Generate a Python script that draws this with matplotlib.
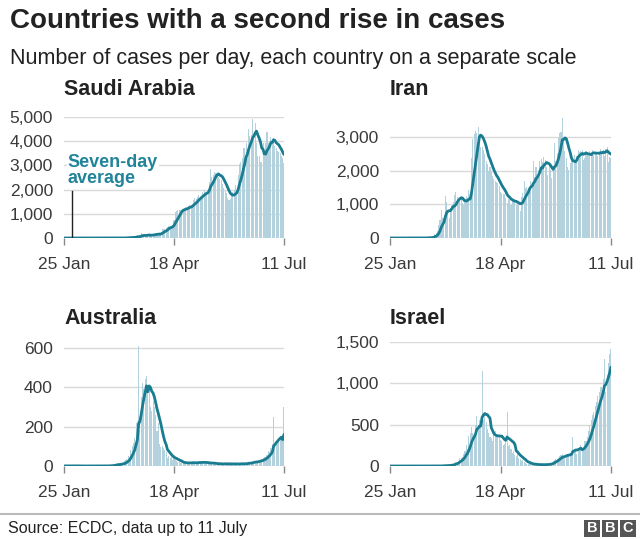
import matplotlib
matplotlib.use("Agg")
import matplotlib.pyplot as plt
import numpy as np
import pandas as pd

plt.rcParams['font.family'] = ['Liberation Sans', 'DejaVu Sans']

# days since 25 Jan 2020 (0 = 25 Jan, 84 = 18 Apr, 168 = 11 Jul)
tick_days = [0, 84, 168]
tick_labels = ['25 Jan', '18 Apr', '11 Jul']

# daily new cases, one row per week
saudi = [
    0, 0, 0, 0, 0, 0, 0,
    0, 0, 0, 0, 0, 0, 0,
    0, 0, 0, 0, 0, 0, 0,
    0, 0, 0, 0, 0, 0, 0,
    0, 0, 0, 0, 0, 0, 0,
    0, 0, 0, 1, 0, 0, 4,
    2, 4, 5, 0, 5, 1, 24,
    17, 15, 15, 38, 0, 67, 70,
    119, 51, 45, 205, 133, 112, 92,
    99, 96, 154, 110, 157, 138, 165,
    140, 206, 190, 147, 137, 364, 382,
    355, 429, 472, 504, 435, 493, 518,
    762, 1088, 1122, 1147, 1141, 1158, 1172,
    1197, 1223, 1289, 1266, 1325, 1351, 1344,
    1362, 1552, 1645, 1595, 1687, 1793, 1701,
    1704, 1912, 1966, 1911, 1905, 2039, 2307,
    2840, 2509, 2593, 2736, 2691, 2642, 2532,
    2442, 2399, 2235, 2081, 1931, 1877, 1644,
    1581, 1618, 1869, 1881, 1975, 2171, 1975,
    2591, 3045, 3121, 3288, 3717, 3733, 3921,
    3366, 4507, 4233, 4267, 4919, 4301, 4757,
    3941, 3393, 3379, 3139, 3123, 3938, 3372,
    3927, 4387, 3943, 3826, 4193, 3995, 4128,
    3800, 3700, 3600, 3550, 3500, 3400, 3300,
    3100,
]

iran = [
    0, 0, 0, 0, 0, 0, 0,
    0, 0, 0, 0, 0, 0, 0,
    0, 0, 0, 0, 0, 0, 0,
    0, 0, 0, 0, 2, 0, 3,
    13, 10, 15, 18, 34, 44, 106,
    143, 205, 385, 523, 835, 586, 591,
    1234, 1076, 743, 595, 881, 958, 1075,
    1289, 1365, 1209, 1053, 1178, 1192, 1046,
    966, 1028, 1237, 1178, 1411, 1262, 2389,
    2926, 3076, 3186, 3111, 3300, 3075, 2715,
    2700, 2600, 2500, 2300, 2200, 2000, 2100,
    1950, 1850, 1750, 1700, 1650, 1620, 1550,
    1374, 1343, 1294, 1297, 1194, 1030, 1168,
    1134, 991, 1153, 1112, 1073, 991, 1006,
    976, 802, 1223, 1323, 1680, 1485, 1529,
    1383, 1529, 1683, 1481, 2294, 1808, 2102,
    1757, 2011, 2294, 2346, 2250, 2392, 2311,
    2102, 1869, 2180, 2023, 1787, 2012, 2819,
    2282, 2516, 2979, 3117, 3134, 3574, 2886,
    2596, 2364, 2095, 2011, 2238, 2410, 2369,
    2472, 2262, 2449, 2612, 2563, 2596, 2615,
    2322, 2368, 2573, 2531, 2445, 2595, 2489,
    2628, 2456, 2536, 2489, 2450, 2549, 2652,
    2560, 2613, 2449, 2637, 2691, 2262, 2397,
    2388,
]

australia = [
    0, 1, 0, 1, 1, 0, 1,
    0, 2, 0, 0, 1, 0, 0,
    0, 0, 0, 0, 0, 0, 0,
    0, 0, 0, 0, 0, 0, 0,
    0, 0, 0, 0, 0, 2, 2,
    1, 4, 3, 4, 8, 10, 15,
    7, 6, 13, 11, 23, 30, 37,
    50, 45, 80, 100, 115, 142, 218,
    230, 611, 181, 350, 420, 390, 440,
    460, 400, 390, 300, 280, 330, 300,
    260, 180, 220, 110, 95, 100, 90,
    80, 70, 40, 50, 40, 45, 30,
    50, 30, 25, 20, 20, 15, 20,
    15, 12, 18, 12, 20, 16, 18,
    20, 15, 14, 12, 18, 25, 20,
    22, 18, 15, 10, 17, 20, 15,
    12, 16, 12, 10, 8, 14, 12,
    10, 10, 12, 8, 14, 12, 10,
    12, 10, 8, 10, 12, 14, 10,
    10, 8, 12, 15, 12, 10, 12,
    15, 20, 15, 18, 22, 25, 20,
    25, 20, 30, 28, 35, 40, 45,
    45, 55, 75, 70, 90, 110, 250,
    110, 120, 125, 130, 140, 150, 160,
    300,
]

israel = [
    0, 0, 0, 0, 0, 0, 0,
    0, 0, 0, 0, 0, 0, 0,
    0, 0, 0, 0, 0, 0, 0,
    0, 0, 0, 0, 0, 0, 0,
    1, 0, 0, 0, 0, 0, 0,
    0, 0, 2, 1, 2, 5, 4,
    4, 5, 3, 10, 16, 20, 30,
    25, 50, 45, 60, 95, 100, 110,
    140, 180, 250, 200, 360, 400, 470,
    400, 380, 490, 600, 470, 560, 480,
    1150, 560, 620, 530, 450, 400, 350,
    340, 300, 380, 420, 390, 370, 350,
    320, 300, 250, 270, 320, 650, 240,
    250, 200, 160, 180, 130, 120, 150,
    100, 80, 60, 70, 50, 40, 30,
    25, 30, 20, 15, 20, 25, 15,
    10, 20, 15, 10, 25, 15, 20,
    15, 20, 25, 30, 40, 60, 70,
    80, 90, 100, 120, 130, 140, 110,
    120, 130, 150, 140, 160, 180, 350,
    170, 200, 150, 180, 210, 250, 220,
    220, 300, 300, 350, 420, 500, 560,
    620, 650, 720, 780, 850, 900, 950,
    950, 1050, 1300, 900, 1100, 1250, 1350,
    1420,
]

countries = ['Saudi Arabia', 'Iran', 'Australia', 'Israel']
series = [saudi, iran, australia, israel]
yticks = [[0, 1000, 2000, 3000, 4000, 5000],
          [0, 1000, 2000, 3000],
          [0, 200, 400, 600],
          [0, 500, 1000, 1500]]
ytops = [5000, 3594, 610, 1500]

# axes boxes in pixels: left, top, right, bottom, title baseline
boxes = [(64, 117, 284, 238, 95), (390, 117, 611, 238, 95),
         (64, 346, 284, 466, 324), (390, 342, 611, 466, 324)]

bar_col = '#b3d2de'
line_col = '#1a7c91'
grid_col = '#d9d9d9'
text_col = '#3a3a3a'

W, H = 640, 539
fig = plt.figure(figsize=(W / 100, H / 100), dpi=100)

for name, vals, yt, top, box in zip(countries, series, yticks, ytops, boxes):
    l, t, r, b, tb = box
    ax = fig.add_axes([l / W, 1 - b / H, (r - l) / W, (b - t) / H])
    days = np.arange(len(vals))
    avg = pd.Series(vals).rolling(7, min_periods=1).mean()
    ax.bar(days, vals, width=0.8, color=bar_col, linewidth=0, zorder=2)
    ax.plot(days, avg, color=line_col, lw=2.0, zorder=3, solid_capstyle='round')
    ax.set_xlim(0, 168)
    ax.set_ylim(0, top)
    ax.set_yticks(yt)
    ax.set_yticklabels([f'{v:,}' for v in yt])
    ax.set_xticks(tick_days)
    ax.set_xticklabels(tick_labels)
    ax.grid(axis='y', color=grid_col, lw=1, zorder=0)
    for s in ax.spines.values():
        s.set_visible(False)
    ax.tick_params(axis='y', length=0, pad=8, labelsize=12.5, labelcolor=text_col)
    ax.tick_params(axis='x', length=5, width=1, color='#888888', pad=9,
                   labelsize=12.5, labelcolor=text_col)
    fig.text(l / W, 1 - tb / H, name, fontsize=15.5, fontweight='bold',
             color='#222222', va='baseline', ha='left')
    if name == 'Saudi Arabia':
        ax.text(3, 3470, 'Seven-day\naverage', color='#22849a', fontsize=13,
                fontweight='bold', va='top', ha='left', linespacing=0.95,
                zorder=5, bbox=dict(facecolor='white', edgecolor='none', pad=0.5))
        ax.plot([6, 6], [0, 1950], color='#222222', lw=1, zorder=4)

fig.text(10 / W, 1 - 28 / H, 'Countries with a second rise in cases',
         fontsize=20, fontweight='bold', color='#222222', va='baseline')
fig.text(10 / W, 1 - 64 / H,
         'Number of cases per day, each country on a separate scale',
         fontsize=15.5, color='#222222', va='baseline')

fig.add_artist(plt.Line2D([0, 1], [1 - 514 / H, 1 - 514 / H],
                          color='#bbbbbb', lw=1.5))
fig.text(8 / W, 1 - 533 / H, 'Source: ECDC, data up to 11 July',
         fontsize=11.5, color='#222222', va='baseline')

# BBC blocks
for i, letter in enumerate('BBC'):
    x0 = 584 + i * 18
    fig.add_artist(plt.Rectangle((x0 / W, 1 - 537 / H), 16 / W, 17 / H,
                                 color='#555555', lw=0))
    fig.text((x0 + 8) / W, 1 - 528.5 / H, letter, fontsize=10.5, fontweight='bold',
             color='white', ha='center', va='center')

fig.savefig('out.png', dpi=100)
